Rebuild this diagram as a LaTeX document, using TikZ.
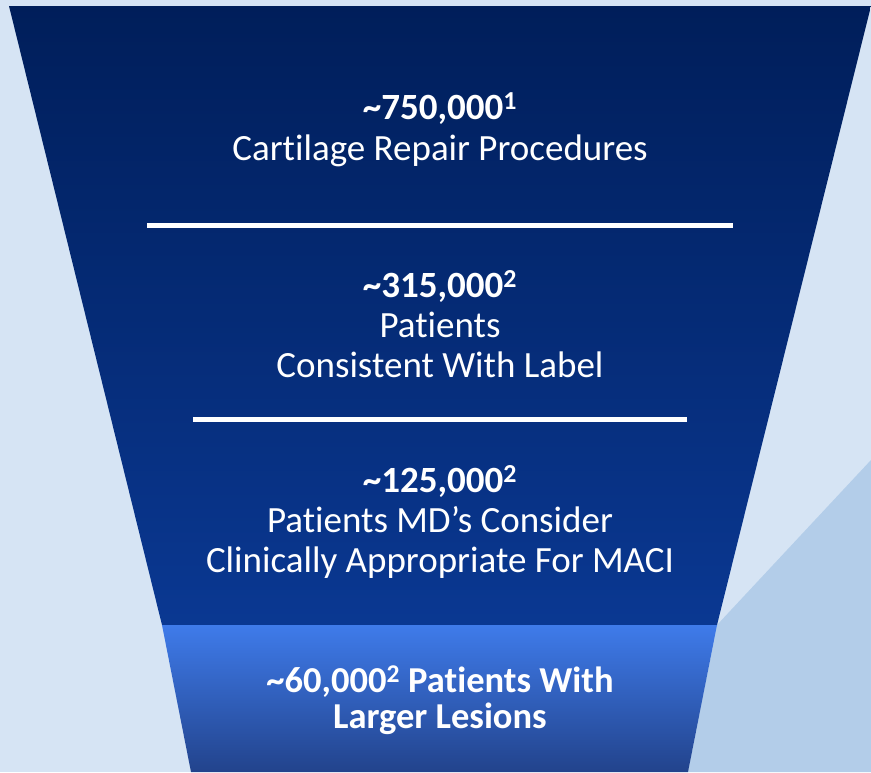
\documentclass[tikz,border=0pt]{standalone}
\usepackage{fontspec}
\setmainfont{Carlito}[Ligatures=NoCommon]
\definecolor{bgblue}{HTML}{D6E4F4}
\definecolor{tri}{HTML}{B3CDE9}
\definecolor{navytop}{HTML}{001E5A}
\definecolor{navybot}{HTML}{0A3892}
\definecolor{lowtop}{HTML}{3F7BEA}
\definecolor{lowbot}{HTML}{22438C}
\tikzset{
  lbl/.style={text=white, inner sep=0pt, anchor=base, font=\fontsize{37}{40}\selectfont},
  numlbl/.style={text=white, inner sep=0pt, anchor=base, font=\bfseries\fontsize{37}{40}\selectfont},
  botlbl/.style={text=white, inner sep=0pt, anchor=base, font=\bfseries\fontsize{36.5}{36}\selectfont},
  sep/.style={draw=white, line width=5pt}
}
\begin{document}
\begin{tikzpicture}[x=1pt,y=-1pt]
\useasboundingbox (0,0) rectangle (871,772);
\fill[bgblue] (0,0) rectangle (871,772);
\fill[tri] (871,460) -- (717,625) -- (688,772) -- (871,772) -- cycle;
\shade[top color=navytop, bottom color=navybot] (9,6) -- (871,6) -- (717,625) -- (162,625) -- cycle;
\shade[top color=lowtop, bottom color=lowbot] (162,625) -- (717,625) -- (688,772) -- (191,772) -- cycle;
\draw[sep] (147,225.5) -- (733,225.5);
\draw[sep] (193,419) -- (687,419);
\node[numlbl] (n1) at (440,119) {\textasciitilde750,000\textsuperscript{1}};
\node[lbl] (t1) at (440,160) {Cartilage Repair Procedures};
\node[numlbl] (n2) at (440,297) {\textasciitilde315,000\textsuperscript{2}};
\node[lbl] (t2a) at (440,337) {Patients};
\node[lbl] (t2b) at (440,377) {Consistent With Label};
\node[numlbl] (n3) at (440,492) {\textasciitilde125,000\textsuperscript{2}};
\node[lbl] (t3a) at (440,532) {Patients MD’s Consider};
\node[lbl] (t3b) at (440,572) {Clinically Appropriate For MACI};
\node[botlbl] (t4a) at (440,692) {\textasciitilde60,000\textsuperscript{2} Patients With};
\node[botlbl] (t4b) at (440,728) {Larger Lesions};
\end{tikzpicture}
\end{document}
